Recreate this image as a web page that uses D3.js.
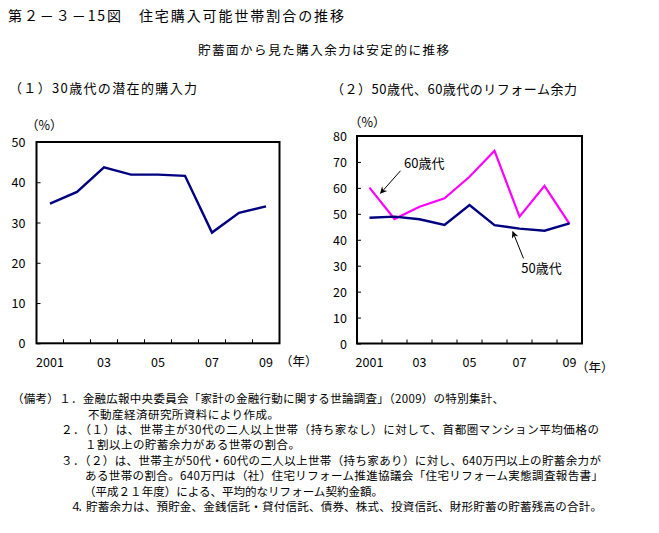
<!DOCTYPE html>
<html><head><meta charset="utf-8">
<script src="https://cdn.jsdelivr.net/npm/d3@7"></script>
<style>
body{margin:0;background:#fff}
text{font-family:"Noto Sans CJK JP","Noto Sans CJK SC",sans-serif;fill:#000}
</style>
</head><body>
<svg id="chart" width="659" height="533"></svg>
<script>
// ---------- data ----------
const years = ["2001","2002","2003","2004","2005","2006","2007","2008","2009"];
const xTickLabels = ["2001","","03","","05","","07","","09"];
const age30 = [34.7, 37.6, 43.7, 41.9, 41.9, 41.6, 27.5, 32.4, 34.0];
const age50 = [48.5, 48.9, 47.9, 45.7, 53.4, 45.6, 44.3, 43.5, 46.3];
const age60 = [60.1, 48.0, 52.7, 56.0, 64.3, 74.3, 48.9, 60.8, 46.1];
const yTicksLeft = [0,10,20,30,40,50];
const yTicksRight = [0,10,20,30,40,50,60,70,80];
const seriesNames = ["60歳代","50歳代"];

const title = "第２－３－15図　住宅購入可能世帯割合の推移";
const subtitle = "貯蓄面から見た購入余力は安定的に推移";
const panelTitles = ["（１）30歳代の潜在的購入力","（２）50歳代、60歳代のリフォーム余力"];
const unitY = "（%）";
const unitX = "（年）";
const notes = [
  "（備考）１．金融広報中央委員会「家計の金融行動に関する世論調査」（2009）の特別集計、",
  "不動産経済研究所資料により作成。",
  "２．（１）は、世帯主が30代の二人以上世帯（持ち家なし）に対して、首都圏マンション平均価格の",
  "１割以上の貯蓄余力がある世帯の割合。",
  "３．（２）は、世帯主が50代・60代の二人以上世帯（持ち家あり）に対し、640万円以上の貯蓄余力が",
  "ある世帯の割合。640万円は（社）住宅リフォーム推進協議会「住宅リフォーム実態調査報告書」",
  "（平成２１年度）による、平均的なリフォーム契約金額。",
  "４．",
  "貯蓄余力は、預貯金、金銭信託・貸付信託、債券、株式、投資信託、財形貯蓄の貯蓄残高の合計。"
];

// ---------- layout ----------
const svg = d3.select("#chart");
svg.append("rect").attr("width",659).attr("height",533).attr("fill","#fff");

const DY = "0.36em";
function txt(s, x, y, size, opts={}) {
  const t = svg.append("text").attr("x",x).attr("y",y).attr("dy",DY)
    .attr("font-size",size).text(s);
  if (opts.len) t.attr("textLength",opts.len).attr("lengthAdjust","spacing");
  if (opts.anchor) t.attr("text-anchor",opts.anchor);
  if (opts.ls) t.attr("letter-spacing",opts.ls);
  return t;
}

txt(title, 8, 16, 14, {len:336});
txt(subtitle, 198, 50, 12.5, {len:251});
txt(panelTitles[0], 9, 88, 13, {len:188});
txt(panelTitles[1], 331, 89, 13, {len:246});

const noteY = i => 399 + i*15.4;
const noteLayout = [
  {x:12, row:0, len:492},
  {x:88, row:1, len:191},
  {x:61, row:2, len:538},
  {x:85, row:3, len:215},
  {x:61, row:4, len:540},
  {x:85, row:5, len:518},
  {x:84, row:6, len:299},
  {x:70, row:7, ls:"-4px"},
  {x:86, row:7, len:516}
];
notes.forEach((s,i)=>{
  const L = noteLayout[i];
  txt(s, L.x, noteY(L.row), 11.5, L);
});

// ---------- panels ----------
function panel(cfg) {
  const x = d3.scaleBand().domain(years).range([cfg.x0, cfg.x1]).padding(0);
  const y = d3.scaleLinear().domain([0, cfg.ymax]).range([cfg.y1, cfg.y0]);
  const g = svg.append("g");

  // y axis with inward ticks
  const ya = g.append("g").attr("transform",`translate(${cfg.x0},0)`)
    .call(d3.axisLeft(y).tickValues(cfg.yTicks).tickSize(-4).tickPadding(cfg.yPad));
  ya.select(".domain").remove();
  ya.selectAll("line").attr("stroke","#000");
  ya.selectAll("text").attr("font-size",12.5).attr("font-family",'"Noto Sans CJK JP",sans-serif').attr("dy","0.36em");

  // x boundary ticks (inward)
  g.selectAll(".xt").data(years.slice(1)).enter().append("line")
    .attr("x1",d=>x(d)).attr("x2",d=>x(d))
    .attr("y1",cfg.y1).attr("y2",cfg.y1-4)
    .attr("stroke","#000");
  // x labels
  g.selectAll(".xl").data(years).enter().append("text")
    .attr("x",d=>x(d)+x.bandwidth()/2).attr("y",cfg.labelY).attr("dy",DY)
    .attr("text-anchor","middle").attr("font-size",12.5)
    .text((d,i)=>xTickLabels[i]);

  // lines
  const cx = d => x(d) + x.bandwidth()/2;
  cfg.series.forEach(s=>{
    const line = d3.line().x((v,i)=>cx(years[i])).y(v=>y(v));
    g.append("path").attr("d",line(s.values)).attr("fill","none")
      .attr("stroke",s.color).attr("stroke-width",s.width)
      .attr("stroke-linejoin","miter");
  });

  // box
  g.append("rect").attr("x",cfg.x0).attr("y",cfg.y0)
    .attr("width",cfg.x1-cfg.x0).attr("height",cfg.y1-cfg.y0)
    .attr("fill","none").attr("stroke","#000").attr("stroke-width",2);

  // units
  txt(unitY, cfg.pctX, cfg.pctY, 12.5);
  txt(unitX, cfg.nenX, cfg.nenY, 12.5);
  return {x, y, fx: f => cfg.x0 + x.step()*(f+0.5)};
}

panel({x0:36.5, x1:279.5, y0:142, y1:343.3, ymax:50, yTicks:yTicksLeft, yPad:11,
  labelY:362, pctX:26, pctY:125, nenX:280, nenY:361,
  series:[{values:age30, color:"#000080", width:2.4}]});

const P2 = panel({x0:357, x1:582, y0:136, y1:343.5, ymax:80, yTicks:yTicksRight, yPad:10,
  labelY:362, pctX:349, pctY:122, nenX:576, nenY:367,
  series:[{values:age60, color:"#FF00FF", width:2.2},{values:age50, color:"#000080", width:2.4}]});

// annotations (data-space positions: fractional year index, value)
const annotations = [
  {name:seriesNames[0], tail:[1.24,66.6], tip:[0.44,57.9], label:[1.38,69.3]},
  {name:seriesNames[1], tail:[6.16,32.8], tip:[5.73,43.1], label:[6.07,28.9]}
];
const defs = svg.append("defs");
defs.append("marker").attr("id","ah").attr("viewBox","0 0 10 10")
  .attr("refX",9).attr("refY",5).attr("markerWidth",9).attr("markerHeight",7)
  .attr("markerUnits","userSpaceOnUse").attr("orient","auto")
  .append("path").attr("d","M0,0 L10,5 L0,10 L3,5 Z").attr("fill","#000");
annotations.forEach(a=>{
  svg.append("line")
    .attr("x1",P2.fx(a.tail[0])).attr("y1",P2.y(a.tail[1]))
    .attr("x2",P2.fx(a.tip[0])).attr("y2",P2.y(a.tip[1]))
    .attr("stroke","#000").attr("stroke-width",1).attr("marker-end","url(#ah)");
  txt(a.name, P2.fx(a.label[0]), P2.y(a.label[1]), 13);
});
</script>
</body></html>
